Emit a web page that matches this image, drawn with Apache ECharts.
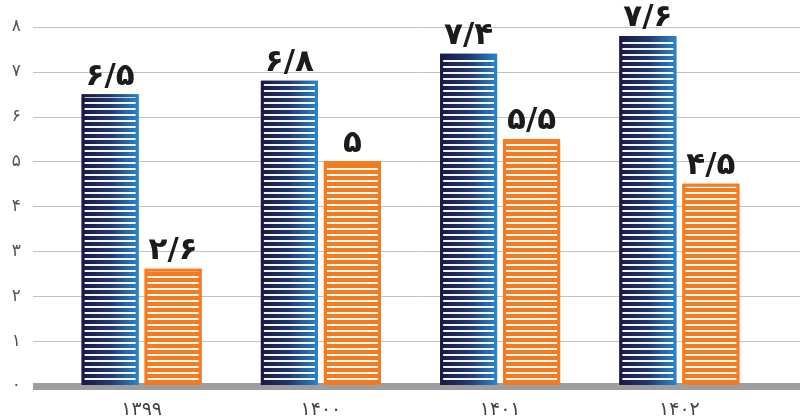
<!DOCTYPE html>
<html>
<head>
<meta charset="utf-8">
<script src="https://cdn.jsdelivr.net/npm/echarts@6/dist/echarts.min.js"></script>
<style>
html,body{margin:0;padding:0;background:#fff;}
#chart{width:800px;height:420px;}
</style>
</head>
<body>
<div id="chart"></div>
<script>
const categories = ['۱۳۹۹', '۱۴۰۰', '۱۴۰۱', '۱۴۰۲'];
const blueValues = [6.5, 6.8, 7.4, 7.8];
const orangeValues = [2.6, 5, 5.5, 4.5];
const blueLabels = ['۶/۵', '۶/۸', '۷/۴', '۷/۶'];
const orangeLabels = ['۲/۶', '۵', '۵/۵', '۴/۵'];
const yTickLabels = ['۰', '۱', '۲', '۳', '۴', '۵', '۶', '۷', '۸'];

const chart = echarts.init(document.getElementById('chart'), null, {renderer: 'canvas'});
const FONT = 'DejaVu Sans';

const blueGrad = new echarts.graphic.LinearGradient(0, 0, 1, 0, [
  {offset: 0, color: '#1a1745'},
  {offset: 0.5, color: '#22386f'},
  {offset: 1, color: '#2a86cc'}
]);
const stripeDecal = {
  symbol: 'rect',
  symbolSize: 1,
  dashArrayX: [1, 0],
  dashArrayY: [1.7, 3.3],
  rotation: 0,
  color: 'rgba(255,255,255,0.95)'
};

const option = {
  animation: false,
  backgroundColor: '#ffffff',
  grid: [
    {left: 33, right: 0, top: 27, bottom: 34},
    {left: 52, right: 31, top: 27, bottom: 34}
  ],
  xAxis: [
    {
      gridIndex: 0, type: 'value', min: 0, max: 1, offset: 3.5,
      axisLine: {show: true, lineStyle: {color: '#9e9e9e', width: 7, cap: 'butt'}},
      axisTick: {show: false}, axisLabel: {show: false}, splitLine: {show: false}
    },
    {
      gridIndex: 1, type: 'category', data: categories,
      axisLine: {show: false}, axisTick: {show: false},
      axisLabel: {color: '#444', fontSize: 19, fontFamily: FONT, margin: 16}
    }
  ],
  yAxis: [
    {
      gridIndex: 0, type: 'value', min: 0, max: 8, interval: 1,
      axisLine: {show: false}, axisTick: {show: false},
      splitLine: {show: true, lineStyle: {color: '#c2c2c2', width: 1}},
      axisLabel: {
        color: '#555', fontSize: 17, fontFamily: FONT, margin: 12,
        formatter: function (v) { return yTickLabels[Math.round(v)]; }
      }
    },
    {
      gridIndex: 1, type: 'value', min: 0, max: 8, interval: 1, show: false
    }
  ],
  series: [
    {
      type: 'bar', xAxisIndex: 1, yAxisIndex: 1,
      data: blueValues,
      barWidth: 57, barGap: '10.5%',
      itemStyle: {color: blueGrad, borderColor: blueGrad, borderWidth: 3, decal: stripeDecal},
      label: {
        show: true, position: 'top', distance: 2,
        fontSize: 31, fontWeight: 'bold', fontFamily: FONT, color: '#1b1b1b',
        formatter: function (p) { return blueLabels[p.dataIndex]; }
      }
    },
    {
      type: 'bar', xAxisIndex: 1, yAxisIndex: 1,
      data: orangeValues,
      barWidth: 57,
      itemStyle: {color: '#f47b20', borderColor: '#f47b20', borderWidth: 3, decal: stripeDecal},
      label: {
        show: true, position: 'top', distance: 2,
        fontSize: 31, fontWeight: 'bold', fontFamily: FONT, color: '#1b1b1b',
        formatter: function (p) { return orangeLabels[p.dataIndex]; }
      }
    }
  ]
};
chart.setOption(option);
</script>
</body>
</html>
